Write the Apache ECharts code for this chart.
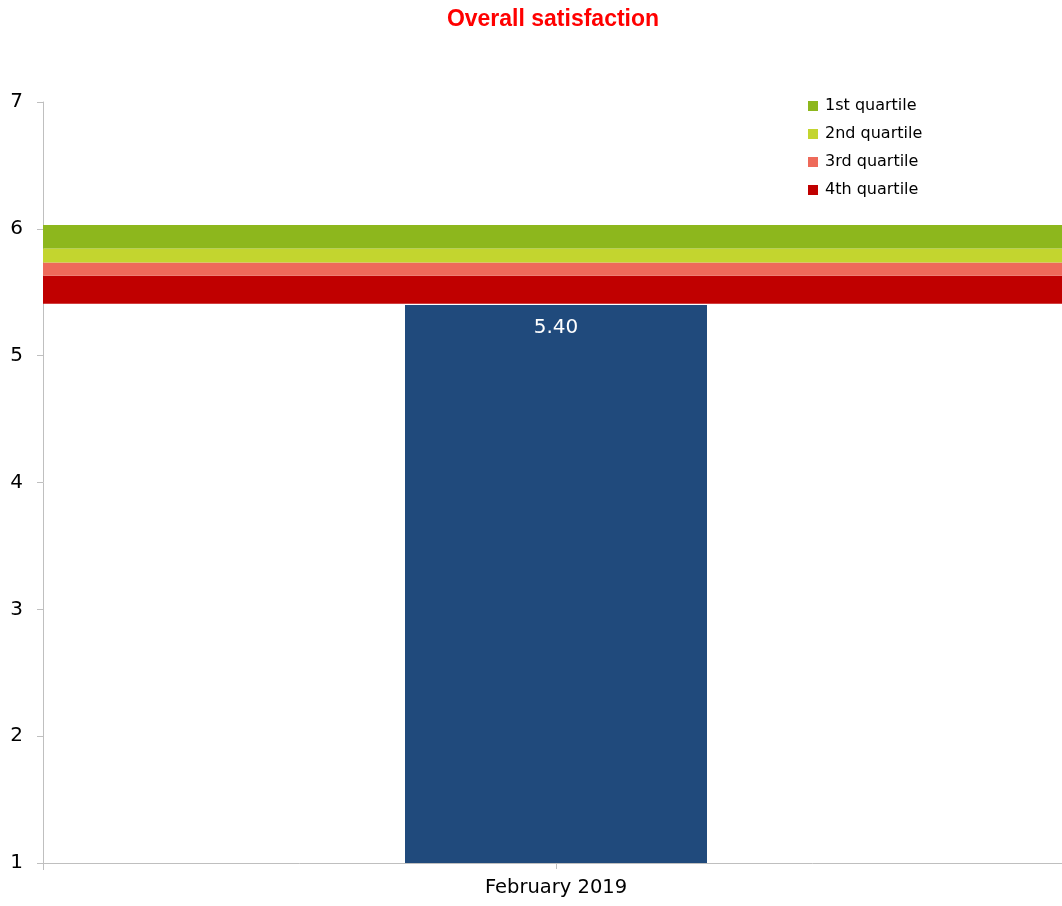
<!DOCTYPE html>
<html>
<head>
<meta charset="utf-8">
<style>html,body{margin:0;padding:0;background:#fff;overflow:hidden}#c{width:1070px;height:906px}</style>
<script src="https://cdn.jsdelivr.net/npm/echarts@6/dist/echarts.min.js"></script>
</head>
<body>
<div id="c"></div>
<script>
const categories = ['February 2019'];
const scoreValues = [5.40];
const yTicks = [1, 2, 3, 4, 5, 6, 7];
const quartileNames = ['1st quartile', '2nd quartile', '3rd quartile', '4th quartile'];
// band boundaries (lower to upper): 4th quartile lowest
const bandBottom = 5.41;
const quartileTops = { '4th quartile': 5.63, '3rd quartile': 5.735, '2nd quartile': 5.845, '1st quartile': 6.03 };
const quartileColors = { '1st quartile': '#8DB71D', '2nd quartile': '#C3D52F', '3rd quartile': '#EE6A5A', '4th quartile': '#C00000' };

const chart = echarts.init(document.getElementById('c'));
const stackOrder = ['4th quartile', '3rd quartile', '2nd quartile', '1st quartile'];
const bandSeries = [{
  type: 'bar', name: '_base', xAxisIndex: 1, stack: 'q', barWidth: '100%',
  data: [bandBottom], itemStyle: { color: 'rgba(0,0,0,0)' }, silent: true, z: 1
}];
let prev = bandBottom;
stackOrder.forEach(n => {
  const top = quartileTops[n];
  bandSeries.push({
    type: 'bar', name: n, xAxisIndex: 1, stack: 'q', barWidth: '100%',
    data: [+(top - prev).toFixed(4)], itemStyle: { color: quartileColors[n] }, z: 1
  });
  prev = top;
});

const FONT = 'DejaVu Sans';
chart.setOption({
  animation: false,
  title: {
    text: 'Overall satisfaction', left: 548, top: 3, textAlign: 'center',
    textStyle: { color: '#FF0000', fontSize: 23, fontWeight: 'bold', fontFamily: 'Liberation Sans' }
  },
  legend: {
    data: quartileNames, orient: 'vertical', left: 803, top: 93,
    itemWidth: 10, itemHeight: 10, itemGap: 12, icon: 'rect',
    textStyle: { fontSize: 16, color: '#000', fontFamily: FONT, padding: [0, 0, 0, 2] }
  },
  grid: { left: 43, top: 102, width: 1026, height: 761 },
  xAxis: [{
    type: 'category', data: categories, position: 'bottom',
    axisLine: { show: true, lineStyle: { color: '#BFBFBF', width: 1 } },
    axisTick: { show: true, alignWithLabel: true, length: 6, lineStyle: { color: '#BFBFBF' } },
    axisLabel: { color: '#000', fontSize: 19.5, fontFamily: FONT, margin: 15 }
  }, {
    type: 'category', data: categories, position: 'bottom',
    axisLine: { show: false },
    axisTick: { show: true, length: 7, lineStyle: { color: '#BFBFBF' } },
    axisLabel: { show: false }
  }],
  yAxis: {
    type: 'value', min: yTicks[0], max: yTicks[yTicks.length - 1], interval: 1,
    axisLine: { show: true, lineStyle: { color: '#BFBFBF' } },
    axisTick: { show: true, length: 6, lineStyle: { color: '#BFBFBF' } },
    splitLine: { show: false },
    axisLabel: { color: '#000', fontSize: 20, fontFamily: FONT, margin: 20 }
  },
  series: [{
    type: 'bar', name: 'Score', xAxisIndex: 0, data: scoreValues, barWidth: 302,
    itemStyle: { color: '#204A7C' }, z: 2,
    label: {
      show: true, position: 'insideTop', distance: 13, color: '#fff',
      fontSize: 20, fontFamily: FONT, formatter: p => p.value.toFixed(2)
    }
  }].concat(bandSeries)
});
</script>
</body>
</html>
